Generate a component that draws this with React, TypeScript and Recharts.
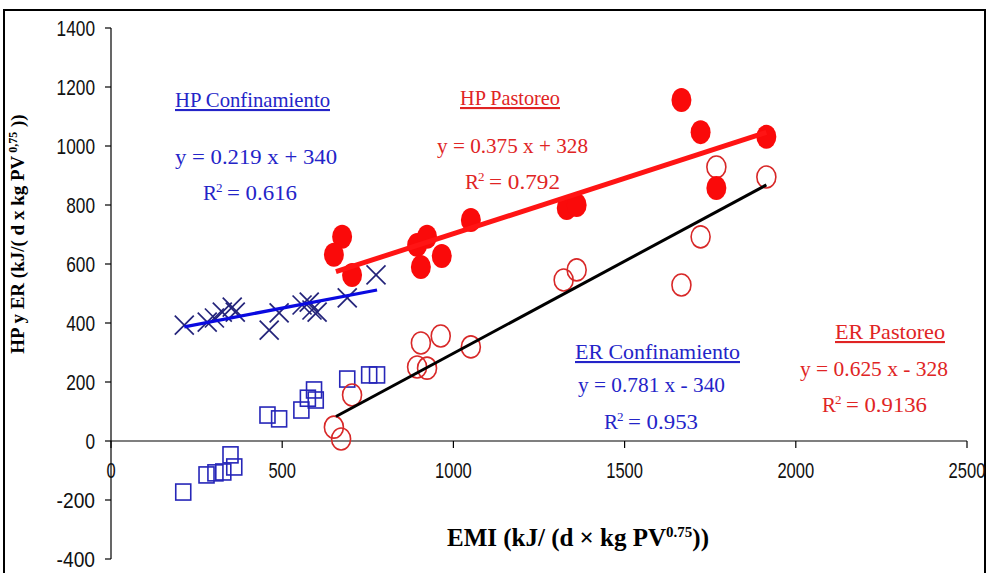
import React from 'react';
import { ScatterChart, Scatter, XAxis, YAxis, ReferenceLine } from 'recharts';

const xTicks = [0, 500, 1000, 1500, 2000, 2500];
const yTicks = [-400, -200, 0, 200, 400, 600, 800, 1000, 1200, 1400];

const hpConfinamiento = [
  { x: 214, y: 393 }, { x: 281, y: 403 }, { x: 302, y: 417 }, { x: 325, y: 437 },
  { x: 354, y: 454 }, { x: 363, y: 437 }, { x: 462, y: 376 }, { x: 491, y: 434 },
  { x: 558, y: 461 }, { x: 579, y: 471 }, { x: 587, y: 444 }, { x: 602, y: 437 },
  { x: 690, y: 485 }, { x: 774, y: 563 },
];
const hpPastoreo = [
  { x: 675, y: 692 }, { x: 651, y: 631 }, { x: 704, y: 563 }, { x: 894, y: 664 },
  { x: 923, y: 692 }, { x: 905, y: 590 }, { x: 966, y: 627 }, { x: 1051, y: 749 },
  { x: 1331, y: 790 }, { x: 1360, y: 800 }, { x: 1666, y: 1156 }, { x: 1722, y: 1047 },
  { x: 1914, y: 1031 }, { x: 1768, y: 858 },
];
const erPastoreo = [
  { x: 651, y: 47 }, { x: 672, y: 7 }, { x: 704, y: 156 }, { x: 905, y: 332 },
  { x: 963, y: 356 }, { x: 894, y: 251 }, { x: 923, y: 247 }, { x: 1051, y: 319 },
  { x: 1322, y: 546 }, { x: 1360, y: 580 }, { x: 1768, y: 929 }, { x: 1914, y: 895 },
  { x: 1722, y: 692 }, { x: 1666, y: 529 },
];
const erConfinamiento = [
  { x: 457, y: 88 }, { x: 491, y: 75 }, { x: 556, y: 105 }, { x: 575, y: 145 },
  { x: 598, y: 139 }, { x: 593, y: 173 }, { x: 690, y: 210 }, { x: 754, y: 224 },
  { x: 777, y: 224 }, { x: 211, y: -173 }, { x: 279, y: -115 }, { x: 305, y: -108 },
  { x: 328, y: -105 }, { x: 349, y: -47 }, { x: 360, y: -88 },
];
const hpConfFit = [{ x: 214, y: 387 }, { x: 777, y: 512 }];
const hpPastFit = [{ x: 657, y: 574 }, { x: 1914, y: 1046 }];
const erPastFit = [{ x: 657, y: 83 }, { x: 1914, y: 868 }];

const W = 987;
const H = 573;
const X_AXIS_H = 14;
const M = { top: 28, right: 20, bottom: 0, left: 0 };
const Y_AXIS_W = 111;
const Y_MIN = -400;
const Y_MAX = 1400;
const PLOT_H = H - M.top - M.bottom - X_AXIS_H;
const ZERO_OFFSET = (PLOT_H * (0 - Y_MIN)) / (Y_MAX - Y_MIN);

const TICK_FONT = '"Liberation Sans", Arial, sans-serif';
const SERIF = '"Liberation Serif", "DejaVu Serif", serif';

const XTick = (props: any) => {
  const { x, y, payload } = props;
  const y0 = y - ZERO_OFFSET;
  const s = String(payload.value);
  return (
    <g>
      <line x1={x} x2={x} y1={y0} y2={y0 + 7} stroke="#000" strokeWidth={1.2} />
      <text
        x={x}
        y={y0 + 37}
        textAnchor="middle"
        fontFamily={TICK_FONT}
        fontSize={22}
        fill="#111"
        textLength={s.length * 9.2}
        lengthAdjust="spacingAndGlyphs"
      >
        {s}
      </text>
    </g>
  );
};

const YTick = (props: any) => {
  const { x, y, payload } = props;
  const s = String(payload.value);
  return (
    <text
      x={x}
      y={y + 8}
      textAnchor="end"
      fontFamily={TICK_FONT}
      fontSize={22}
      fill="#111"
      textLength={s.length * 9.6}
      lengthAdjust="spacingAndGlyphs"
    >
      {s}
    </text>
  );
};

const CrossShape = (p: any) => (
  <g>
    <line x1={p.cx - 9.5} y1={p.cy - 9.5} x2={p.cx + 9.5} y2={p.cy + 9.5} stroke="#23237a" strokeWidth={1.7} />
    <line x1={p.cx - 9.5} y1={p.cy + 9.5} x2={p.cx + 9.5} y2={p.cy - 9.5} stroke="#23237a" strokeWidth={1.7} />
  </g>
);
const FilledDot = (p: any) => <ellipse cx={p.cx} cy={p.cy} rx={10} ry={12} fill="#fa0a0a" />;
const OpenDot = (p: any) => (
  <ellipse cx={p.cx} cy={p.cy} rx={9.5} ry={11} fill="none" stroke="#d82828" strokeWidth={1.6} />
);
const SquareShape = (p: any) => (
  <rect x={p.cx - 7.5} y={p.cy - 8} width={15} height={16} fill="none" stroke="#2626b8" strokeWidth={1.6} />
);
const NoShape = () => <g />;

const BLUE = '#2424c8';
const RED = '#e02424';

const R2 = ({ x, y, value, width, fill }: any) => (
  <g fill={fill} fontFamily={SERIF}>
    <text x={x} y={y} fontSize={21}>R</text>
    <text x={x + 13} y={y - 8} fontSize={13}>2</text>
    <text x={x + 24} y={y} fontSize={21} textLength={width} lengthAdjust="spacingAndGlyphs">= {value}</text>
  </g>
);

export default function App() {
  return (
    <div style={{ position: 'absolute', left: 0, top: 0, width: W, height: H, overflow: 'hidden', background: '#fff' }}>
      <div style={{ position: 'absolute', left: 3, top: 9, width: 979, height: 620, border: '2px solid #000' }} />
      <div style={{ position: 'absolute', left: 0, top: 0 }}>
        <ScatterChart width={W} height={H} margin={M}>
          <XAxis
            type="number"
            dataKey="x"
            domain={[0, 2500]}
            ticks={xTicks}
            interval={0}
            axisLine={false}
            tickLine={false}
            tickSize={0}
            tickMargin={0}
            height={X_AXIS_H}
            tick={<XTick />}
            allowDataOverflow
          />
          <YAxis
            type="number"
            dataKey="y"
            domain={[Y_MIN, Y_MAX]}
            ticks={yTicks}
            interval={0}
            width={Y_AXIS_W}
            axisLine={{ stroke: '#000', strokeWidth: 1.2 }}
            tickLine={{ stroke: '#000', strokeWidth: 1.2 }}
            tickSize={6}
            tickMargin={10}
            tick={<YTick />}
            allowDataOverflow
          />
          <ReferenceLine y={0} stroke="#000" strokeWidth={1.2} />
          <Scatter data={erConfinamiento} shape={SquareShape} isAnimationActive={false} />
          <Scatter data={hpConfinamiento} shape={CrossShape} isAnimationActive={false} />
          <Scatter data={erPastoreo} shape={OpenDot} isAnimationActive={false} />
          <Scatter data={hpPastoreo} shape={FilledDot} isAnimationActive={false} />
          <Scatter data={hpConfFit} shape={NoShape} line={{ stroke: '#0a0ae0', strokeWidth: 3.2 }} isAnimationActive={false} />
          <Scatter data={hpPastFit} shape={NoShape} line={{ stroke: '#ff1414', strokeWidth: 5 }} isAnimationActive={false} />
          <Scatter data={erPastFit} shape={NoShape} line={{ stroke: '#000', strokeWidth: 3 }} isAnimationActive={false} />
        </ScatterChart>
      </div>
      <svg width={W} height={H} style={{ position: 'absolute', left: 0, top: 0, pointerEvents: 'none' }}>
        <g fontFamily={SERIF} fontSize={21}>
          <text x={175} y={107} fill={BLUE} textLength={155} lengthAdjust="spacingAndGlyphs" style={{ textDecoration: 'underline' }}>HP Confinamiento</text>
          <text x={175} y={164} fill={BLUE} textLength={162} lengthAdjust="spacingAndGlyphs">y = 0.219 x + 340</text>
          <R2 x={203} y={200} value="0.616" width={70} fill={BLUE} />

          <text x={460} y={105} fill={RED} textLength={100} lengthAdjust="spacingAndGlyphs" style={{ textDecoration: 'underline' }}>HP Pastoreo</text>
          <text x={437} y={153} fill={RED} textLength={151} lengthAdjust="spacingAndGlyphs">y = 0.375 x + 328</text>
          <R2 x={465} y={189} value="0.792" width={71} fill={RED} />

          <text x={575} y={359} fill={BLUE} textLength={165} lengthAdjust="spacingAndGlyphs" style={{ textDecoration: 'underline' }}>ER Confinamiento</text>
          <text x={578} y={392} fill={BLUE} textLength={147} lengthAdjust="spacingAndGlyphs">y = 0.781 x - 340</text>
          <R2 x={604} y={429} value="0.953" width={70} fill={BLUE} />

          <text x={835} y={339} fill={RED} textLength={110} lengthAdjust="spacingAndGlyphs" style={{ textDecoration: 'underline' }}>ER Pastoreo</text>
          <text x={800} y={376} fill={RED} textLength={148} lengthAdjust="spacingAndGlyphs">y = 0.625 x - 328</text>
          <R2 x={822} y={412} value="0.9136" width={81} fill={RED} />
        </g>
        <text x={578} y={546} textAnchor="middle" fontFamily={SERIF} fontWeight="bold" fontSize={25} fill="#000">
          EMI (kJ/ (d × kg PV<tspan dy={-9} fontSize={15}>0.75</tspan><tspan dy={9}>))</tspan>
        </text>
        <text transform="translate(24,234) rotate(-90)" textAnchor="middle" fontFamily={SERIF} fontWeight="bold" fontSize={19} fill="#000">
          HP y ER (kJ/( d x kg PV<tspan dy={-7} fontSize={12}> 0,75</tspan><tspan dy={7}> ))</tspan>
        </text>
      </svg>
    </div>
  );
}
